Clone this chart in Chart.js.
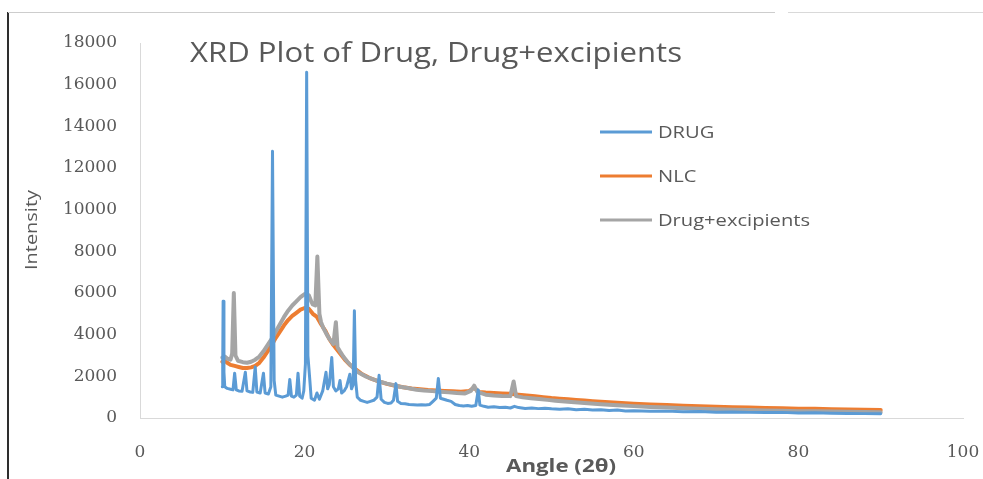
<!DOCTYPE html>
<html>
<head>
<meta charset="utf-8">
<title>XRD Plot of Drug, Drug+excipients</title>
<script src="https://cdn.jsdelivr.net/npm/chart.js@4.4.1/dist/chart.umd.min.js"></script>
<style>
  html, body { margin: 0; padding: 0; background: #ffffff; }
  #wrap { position: relative; width: 983px; height: 479px; overflow: hidden; background: #ffffff; }
  #xrd { position: absolute; left: 0; top: 0; }
  .edge-left { position: absolute; left: 7px; top: 12px; width: 2px; height: 467px; background: #2e2e2e; }
  .edge-top-a { position: absolute; left: 8px; top: 12px; width: 767px; height: 1px; background: #cdcdcd; }
  .edge-top-b { position: absolute; left: 788px; top: 12px; width: 195px; height: 1px; background: #d9d9d9; }
</style>
</head>
<body>
<div id="wrap">
  <canvas id="xrd" width="983" height="479"></canvas>
  <div class="edge-left"></div>
  <div class="edge-top-a"></div>
  <div class="edge-top-b"></div>
</div>
<script>
// Pure drug diffractogram (2θ in degrees, counts)
const drugAngle = [
  10.0, 10.05, 10.1, 10.2, 10.3, 10.6, 11.0, 11.3, 11.5, 11.7, 12.0, 12.4, 12.8, 13.0,
  13.4, 13.7, 14.0, 14.2, 14.6, 15.0, 15.2, 15.6, 15.9, 16.1, 16.3, 16.5, 16.9, 17.3,
  17.7, 18.0, 18.2, 18.4, 18.7, 19.0, 19.2, 19.4, 19.7, 19.9, 20.1, 20.25, 20.4, 20.6,
  20.8, 21.2, 21.5, 21.8, 22.2, 22.6, 22.8, 23.0, 23.3, 23.5, 23.8, 24.1, 24.3, 24.5,
  24.8, 25.1, 25.5, 25.7, 25.9, 26.05, 26.2, 26.4, 26.8, 27.2, 27.6, 28.0, 28.4, 28.8,
  29.05, 29.3, 29.7, 30.1, 30.5, 30.8, 31.1, 31.3, 31.7, 32.2, 32.7, 33.2, 33.7, 34.2,
  34.7, 35.2, 35.6, 36.0, 36.25, 36.5, 36.9, 37.3, 37.8, 38.3, 38.8, 39.3, 39.8, 40.3,
  40.8, 41.1, 41.3, 41.8, 42.3, 43.0, 43.7, 44.4, 45.0, 45.5, 46.0, 46.8, 47.6, 48.4,
  49.2, 50.0, 51.0, 52.0, 53.0, 54.0, 55.0, 56.0, 57.0, 58.0, 59.0, 60.0, 62.0, 64.0,
  66.0, 68.0, 70.0, 72.0, 74.0, 76.0, 78.0, 80.0, 82.0, 84.0, 86.0, 88.0, 90.0
];
const drugIntensity = [
  1500, 2400, 5600, 2200, 1500, 1420, 1380, 1350, 2150, 1350, 1300, 1280, 2200, 1300,
  1250, 1230, 2450, 1250, 1200, 2150, 1200, 1150, 1500, 12800, 1800, 1100, 1050, 1000,
  1050, 1100, 1850, 1050, 1000, 1100, 2150, 1050, 950, 1300, 2600, 16600, 3000, 2000,
  950, 850, 1200, 900, 1300, 2200, 1400, 1600, 2900, 1500, 1300, 1400, 1800, 1200,
  1300, 1500, 2100, 1400, 1600, 5150, 1800, 1000, 850, 800, 750, 800, 850, 1000,
  2050, 900, 750, 700, 720, 850, 1650, 800, 700, 680, 650, 640, 620, 640,
  620, 650, 800, 950, 1900, 950, 900, 850, 800, 650, 600, 580, 600, 560,
  600, 1350, 620, 560, 520, 540, 500, 520, 480, 560, 500, 460, 480, 450,
  470, 440, 420, 440, 400, 420, 380, 400, 360, 380, 340, 350, 320, 330,
  300, 310, 280, 290, 270, 260, 270, 240, 250, 230, 220, 210, 200
];

// Nanostructured lipid carrier (NLC)
const nlcAngle = [
  10.0, 10.3, 10.6, 11.0, 11.5, 12.0, 12.5, 13.0, 13.5, 14.0, 14.5, 15.0, 15.5, 16.0,
  16.5, 17.0, 17.5, 18.0, 18.5, 19.0, 19.5, 20.0, 20.5, 21.0, 21.5, 22.0, 22.5, 23.0,
  23.5, 24.0, 24.5, 25.0, 25.5, 26.0, 26.5, 27.0, 27.5, 28.0, 29.0, 30.0, 31.0, 32.0,
  33.0, 34.0, 35.0, 36.0, 37.0, 38.0, 39.0, 40.0, 40.6, 41.2, 42.0, 43.0, 44.0, 45.0,
  46.0, 47.0, 48.0, 49.0, 50.0, 51.0, 52.0, 53.0, 54.0, 55.0, 56.0, 58.0, 60.0, 62.0,
  64.0, 66.0, 68.0, 70.0, 72.0, 74.0, 76.0, 78.0, 80.0, 82.0, 84.0, 86.0, 88.0, 90.0
];
const nlcIntensity = [
  2700, 2750, 2650, 2550, 2500, 2450, 2400, 2400, 2430, 2500, 2650, 2900, 3200, 3500,
  3850, 4150, 4450, 4700, 4900, 5050, 5200, 5280, 5250, 5000, 4850, 4500, 4200, 3800,
  3500, 3250, 3000, 2750, 2550, 2400, 2250, 2100, 2000, 1900, 1760, 1640, 1550, 1480,
  1420, 1380, 1340, 1320, 1300, 1280, 1260, 1300, 1450, 1250, 1220, 1200, 1180, 1160,
  1120, 1080, 1040, 1000, 960, 930, 900, 870, 840, 810, 780, 730, 690, 650,
  620, 590, 560, 540, 520, 500, 480, 470, 450, 440, 420, 410, 400, 390
];

// Physical mixture of drug with excipients
const mixAngle = [
  10.0, 10.3, 10.6, 11.0, 11.2, 11.4, 11.6, 11.9, 12.5, 13.0, 13.5, 14.0, 14.5, 15.0,
  15.5, 16.0, 16.5, 17.0, 17.5, 18.0, 18.5, 19.0, 19.5, 20.0, 20.5, 20.8, 21.0, 21.3,
  21.55, 21.8, 22.0, 22.3, 22.7, 23.1, 23.5, 23.8, 24.0, 24.3, 24.7, 25.2, 25.9, 26.5,
  27.5, 28.5, 29.2, 30.0, 31.0, 31.6, 32.5, 33.6, 34.5, 35.5, 36.5, 37.5, 38.5, 39.5,
  40.2, 40.6, 41.0, 42.0, 43.0, 44.0, 45.0, 45.4, 45.7, 46.5, 47.5, 48.5, 49.5, 50.5,
  52.0, 54.0, 56.0, 58.0, 60.0, 62.0, 64.0, 66.0, 68.0, 70.0, 72.0, 74.0, 76.0, 78.0,
  80.0, 82.0, 84.0, 86.0, 88.0, 90.0
];
const mixIntensity = [
  2900, 2950, 2850, 2800, 3100, 6000, 3000, 2750, 2680, 2650, 2700, 2800, 2950, 3200,
  3500, 3800, 4150, 4500, 4850, 5150, 5400, 5600, 5800, 5950, 5900, 5600, 5450, 5400,
  7750, 5000, 4600, 4300, 4000, 3750, 3550, 4600, 3400, 3200, 2950, 2700, 2400, 2200,
  1980, 1830, 1740, 1650, 1560, 1500, 1440, 1360, 1320, 1290, 1260, 1230, 1200, 1180,
  1300, 1550, 1250, 1120, 1080, 1060, 1050, 1750, 1050, 990, 950, 910, 870, 830,
  780, 720, 660, 610, 570, 530, 500, 470, 440, 420, 400, 380, 360, 350,
  330, 320, 310, 300, 290, 280
];

const seriesNames = ['DRUG', 'NLC', 'Drug+excipients'];
const angleTicks = [0, 20, 40, 60, 80, 100];
const intensityTicks = [0, 2000, 4000, 6000, 8000, 10000, 12000, 14000, 16000, 18000];

const chartTitle = 'XRD Plot of Drug, Drug+excipients';
const xTitle = 'Angle (2θ)';
const yTitle = 'Intensity';

function pairUp(xs, ys) {
  return xs.map((x, i) => ({ x: x, y: ys[i] }));
}

const TEXT = '#595959';

// Draws text so that it spans a given width (horizontal stretch only)
function fitText(ctx, text, x, y, width, align) {
  const w = ctx.measureText(text).width;
  ctx.save();
  ctx.translate(x, y);
  ctx.scale(width / w, 1);
  ctx.textAlign = align;
  ctx.fillText(text, 0, 0);
  ctx.restore();
}

const annotations = {
  id: 'annotations',
  afterDraw(chart) {
    const ctx = chart.ctx;
    ctx.save();
    ctx.fillStyle = TEXT;
    ctx.textBaseline = 'alphabetic';

    // chart title, inside the plot area
    ctx.font = '400 27px "Open Sans"';
    fitText(ctx, chartTitle, 190, 62, 492, 'left');

    // legend
    ctx.font = '400 16px "Open Sans"';
    const longest = Math.max(...seriesNames.map(n => ctx.measureText(n).width));
    const sx = 152 / longest;
    chart.data.datasets.forEach((ds, i) => {
      const y = 132 + i * 44;
      ctx.strokeStyle = ds.borderColor;
      ctx.lineWidth = 3;
      ctx.beginPath();
      ctx.moveTo(600, y);
      ctx.lineTo(652, y);
      ctx.stroke();
      const w = ctx.measureText(ds.label).width * sx;
      fitText(ctx, ds.label, 658, y + 6, w, 'left');
    });

    // axis titles
    ctx.font = '400 16px "Open Sans"';
    ctx.save();
    ctx.translate(37, 230);
    ctx.rotate(-Math.PI / 2);
    fitText(ctx, yTitle, 0, 0, 80, 'center');
    ctx.restore();

    ctx.font = '700 17px "Open Sans"';
    fitText(ctx, xTitle, 561, 472, 110, 'center');
    ctx.restore();
  }
};

new Chart(document.getElementById('xrd'), {
  type: 'line',
  data: {
    datasets: [
      {
        label: seriesNames[0],
        data: pairUp(drugAngle, drugIntensity),
        borderColor: '#5B9BD5',
        borderWidth: 3,
        order: 0
      },
      {
        label: seriesNames[1],
        data: pairUp(nlcAngle, nlcIntensity),
        borderColor: '#ED7D31',
        borderWidth: 4,
        order: 2
      },
      {
        label: seriesNames[2],
        data: pairUp(mixAngle, mixIntensity),
        borderColor: '#A5A5A5',
        borderWidth: 4,
        order: 1
      }
    ]
  },
  options: {
    responsive: false,
    animation: false,
    devicePixelRatio: 1,
    parsing: false,
    layout: { padding: { top: 43, right: 20, bottom: 0, left: 0 } },
    elements: {
      point: { radius: 0, hoverRadius: 0 },
      line: { tension: 0, borderJoinStyle: 'round', borderCapStyle: 'round', fill: false }
    },
    plugins: {
      legend: { display: false },
      title: { display: false },
      tooltip: { enabled: false }
    },
    scales: {
      x: {
        type: 'linear',
        min: 0,
        max: 100,
        afterBuildTicks: s => { s.ticks = angleTicks.map(v => ({ value: v })); },
        afterFit: s => { s.height = 61; s.paddingLeft = 0; s.paddingRight = 0; },
        grid: { display: false, drawTicks: false },
        border: { display: true, color: '#d9d9d9', width: 1 },
        ticks: {
          padding: 24,
          color: TEXT,
          font: { family: '"DejaVu Serif"', size: 17 },
          maxRotation: 0
        }
      },
      y: {
        type: 'linear',
        min: 0,
        max: 18000,
        afterBuildTicks: s => { s.ticks = intensityTicks.map(v => ({ value: v })); },
        afterFit: s => { s.width = 140; s.paddingTop = 0; s.paddingBottom = 0; },
        grid: { display: false, drawTicks: false },
        border: { display: true, color: '#d9d9d9', width: 1 },
        ticks: {
          padding: 23,
          color: TEXT,
          font: { family: '"DejaVu Serif"', size: 17 },
          callback: v => String(v)
        }
      }
    }
  },
  plugins: [annotations]
});
</script>
</body>
</html>
